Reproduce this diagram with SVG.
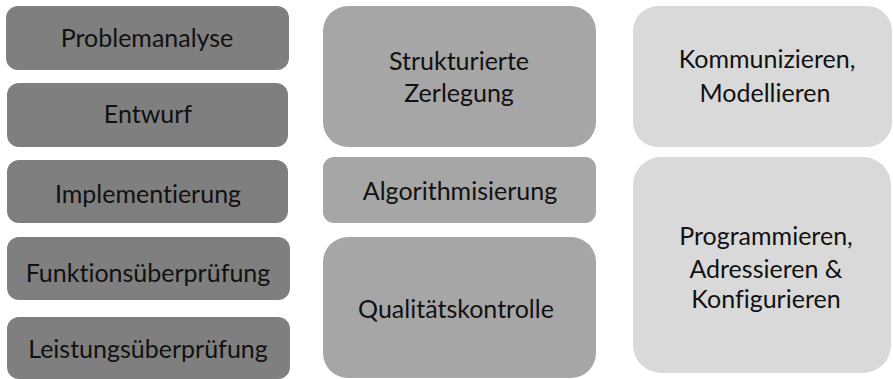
<svg xmlns="http://www.w3.org/2000/svg" width="893" height="379" viewBox="0 0 893 379">
<style>
.t{font-family:Lato,"Open Sans","Liberation Sans",sans-serif;font-size:25px;fill:#111;text-anchor:middle;font-variant-ligatures:none}
.d{fill:#7f7f7f}.m{fill:#a6a6a6}.l{fill:#d9d9d9}
</style>
<rect width="893" height="379" fill="#fff"/>
<g id="n1"><rect class="d" x="6" y="6" width="283" height="64" rx="12"/><text class="t" x="147" y="47">Problemanalyse</text></g>
<g id="n2"><rect class="d" x="7" y="83" width="281" height="64" rx="12"/><text class="t" x="148" y="123">Entwurf</text></g>
<g id="n3"><rect class="d" x="7" y="160" width="281" height="63" rx="12"/><text class="t" x="148" y="203">Implementierung</text></g>
<g id="n4"><rect class="d" x="7" y="237" width="283" height="63" rx="12"/><text class="t" x="148" y="282">Funktionsüberprüfung</text></g>
<g id="n5"><rect class="d" x="7" y="317" width="283" height="62" rx="12"/><text class="t" x="148" y="358">Leistungsüberprüfung</text></g>
<g id="n6"><rect class="m" x="323" y="6" width="273" height="141" rx="25"/><text class="t" x="459" y="70">Strukturierte</text><text class="t" x="459" y="102">Zerlegung</text></g>
<g id="n7"><rect class="m" x="323" y="157" width="273" height="66" rx="11"/><text class="t" x="460" y="200">Algorithmisierung</text></g>
<g id="n8"><rect class="m" x="323" y="237" width="273" height="141" rx="25"/><text class="t" x="456" y="318">Qualitätskontrolle</text></g>
<g id="n9"><rect class="l" x="633" y="6" width="259" height="141" rx="25"/><text class="t" x="767" y="68">Kommunizieren,</text><text class="t" x="765" y="102">Modellieren</text></g>
<g id="n10"><rect class="l" x="633" y="157" width="258" height="216" rx="28"/><text class="t" x="766" y="245">Programmieren,</text><text class="t" x="766" y="278">Adressieren &amp;</text><text class="t" x="766" y="308">Konfigurieren</text></g>
<g id="connectors"/>
</svg>
